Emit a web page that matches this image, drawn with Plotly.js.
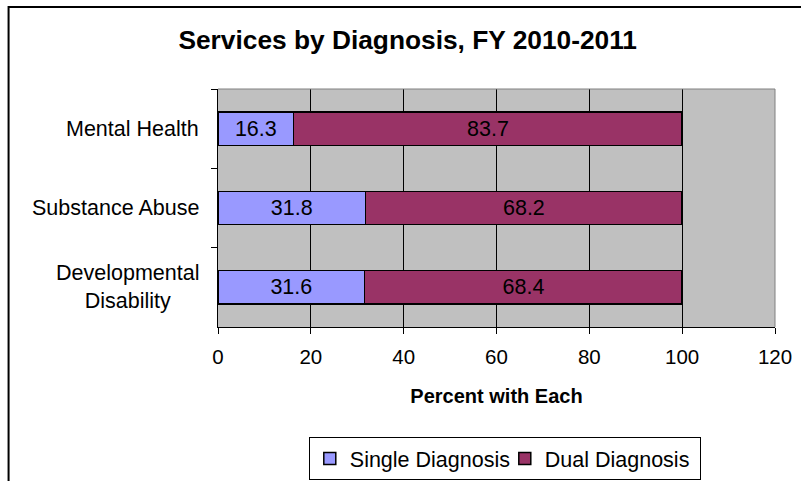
<!DOCTYPE html>
<html>
<head>
<meta charset="utf-8">
<script src="https://cdn.plot.ly/plotly-3.0.1.min.js"></script>
<style>html,body{margin:0;padding:0;background:#fff;}#chart{width:801px;height:481px;}</style>
</head>
<body>
<div id="chart"></div>
<script>
const categories = ["Mental Health", "Substance Abuse", "Developmental Disability"];
const categoryLabels = ["Mental Health", "Substance Abuse", "Developmental<br>Disability"];
const singleDiagnosis = [16.3, 31.8, 31.6];
const dualDiagnosis = [83.7, 68.2, 68.4];
const xTicks = [0, 20, 40, 60, 80, 100, 120];

const FONT = "Arial, 'Liberation Sans', sans-serif";

const traces = [
  {
    type: "bar", orientation: "h", name: "Single Diagnosis",
    y: categories, x: singleDiagnosis,
    marker: {color: "#9999FF", line: {color: "#000000", width: 1.5}},
    text: singleDiagnosis.map(v => v.toFixed(1)), textposition: "inside",
    insidetextanchor: "middle", constraintext: "none",
    textfont: {family: FONT, size: 21.5, color: "#000000"},
    hoverinfo: "none"
  },
  {
    type: "bar", orientation: "h", name: "Dual Diagnosis",
    y: categories, x: dualDiagnosis,
    marker: {color: "#993366", line: {color: "#000000", width: 1.5}},
    text: dualDiagnosis.map(v => v.toFixed(1)), textposition: "inside",
    insidetextanchor: "middle", constraintext: "none",
    textfont: {family: FONT, size: 21.5, color: "#000000"},
    hoverinfo: "none"
  }
];

const annotations = categories.map((c, i) => ({
  xref: "paper", yref: "y", x: -0.03, y: c, xanchor: "right", yanchor: "middle",
  text: categoryLabels[i], showarrow: false, align: "center",
  font: {family: FONT, size: 21.5, color: "#000000"}
}));

const layout = {
  width: 801, height: 481,
  margin: {l: 218, r: 26, t: 89, b: 154, autoexpand: false},
  paper_bgcolor: "#ffffff", plot_bgcolor: "#C0C0C0",
  font: {family: FONT, size: 20, color: "#000000"},
  barmode: "stack", bargap: 0.58,
  showlegend: true,
  title: {
    text: "<b>Services by Diagnosis, FY 2010-2011</b>",
    font: {family: FONT, size: 26.3, color: "#000000"},
    xref: "container", x: 0.509, xanchor: "center",
    yref: "container", y: 1 - 40/481, yanchor: "middle"
  },
  xaxis: {
    range: [0, 120], tickvals: xTicks, ticktext: xTicks.map(String),
    showgrid: true, gridcolor: "#000000", gridwidth: 1,
    zeroline: false, showline: true, linecolor: "#000000", linewidth: 1,
    ticks: "outside", ticklen: 6, tickcolor: "#000000", ticklabelstandoff: 5,
    tickfont: {family: FONT, size: 20.5, color: "#000000"},
    title: {text: "<b>Percent with Each</b>", font: {family: FONT, size: 20, color: "#000000"}, standoff: 22},
    automargin: false,
    fixedrange: true
  },
  yaxis: {
    type: "category", categoryarray: categories, autorange: "reversed",
    showgrid: false, zeroline: false, showline: true, linecolor: "#000000", linewidth: 1,
    ticks: "outside", tickson: "boundaries", ticklen: 6, tickcolor: "#000000",
    showticklabels: false, fixedrange: true, automargin: false
  },
  legend: {
    orientation: "h", x: 0.163, xanchor: "left", y: -0.462, yanchor: "top",
    bgcolor: "#ffffff", bordercolor: "#000000", borderwidth: 1,
    font: {family: FONT, size: 21.5, color: "#000000"},
    entrywidth: 150, entrywidthmode: "pixels",
    traceorder: "normal"
  },
  annotations: annotations,
  shapes: [
    {type: "line", xref: "paper", yref: "paper", x0: 0, x1: 1, y0: 1, y1: 1, line: {color: "#808080", width: 1}},
    {type: "line", xref: "paper", yref: "paper", x0: 1, x1: 1, y0: 0, y1: 1, line: {color: "#808080", width: 1}},
    {type: "rect", xref: "paper", yref: "paper", x0: -0.376, x1: 1.06, y0: 1.345, y1: -0.7, line: {color: "#000000", width: 2}}
  ]
};

Plotly.newPlot("chart", traces, layout, {displayModeBar: false, staticPlot: true});
</script>
</body>
</html>
